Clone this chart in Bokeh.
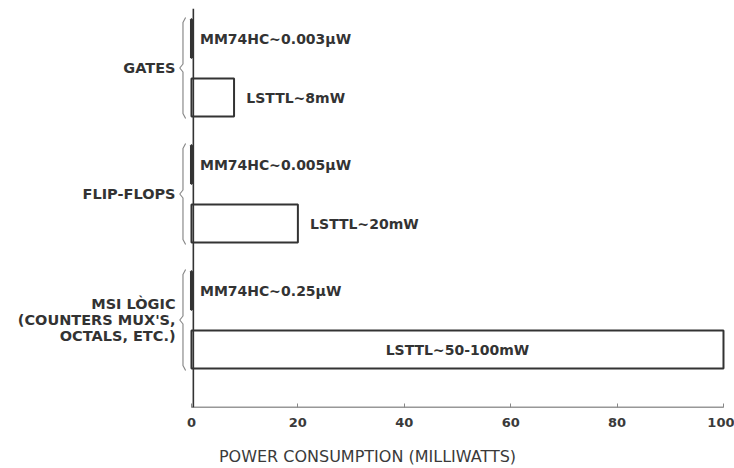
from bokeh.plotting import figure
from bokeh.models import Range1d, FixedTicker
from bokeh.core.properties import value
from bokeh.embed import file_html
from bokeh.resources import INLINE

# ---- data ----
groups = ["GATES", "FLIP-FLOPS", "MSI LÒGIC\n(COUNTERS MUX'S,\nOCTALS, ETC.)"]
series = ["MM74HC", "LSTTL"]
mm74hc_mw = [0.003e-3, 0.005e-3, 0.25e-3]      # milliwatts
lsttl_mw = [8, 20, 100]
mm74hc_labels = ["MM74HC∼0.003µW", "MM74HC∼0.005µW", "MM74HC∼0.25µW"]
lsttl_labels = ["LSTTL∼8mW", "LSTTL∼20mW", "LSTTL∼50-100mW"]
x_ticks = [0, 20, 40, 60, 80, 100]
x_title = "POWER CONSUMPTION (MILLIWATTS)"

# ---- layout (frame units: y in px from top of frame) ----
first, group_gap, sub_gap, bar_h = 30, 126, 59, 38
FONT = "DejaVu Sans"
DARK = "#333333"

W, H = 734, 468
p = figure(width=W, height=H, output_backend="svg", toolbar_location=None,
           x_range=Range1d(-35.9, 102.07), y_range=Range1d(399, 0),
           y_axis_location=None, min_border_left=0, min_border_right=0,
           min_border_top=8, min_border_bottom=61)
p.grid.visible = False
p.outline_line_color = None
p.background_fill_color = "white"

pos_mm, pos_ls = [], []
for i in range(len(groups)):
    pos_mm.append(first + i * group_gap)
    pos_ls.append(first + i * group_gap + sub_gap)

# bars
p.hbar(y=pos_ls, left=0, right=lsttl_mw, height=bar_h, fill_color="white",
       line_color=DARK, line_width=2)
p.hbar(y=pos_mm, left=0, right=mm74hc_mw, height=bar_h, fill_color=DARK,
       line_color=DARK, line_width=3)

# axes lines
p.segment(x0=[0.35, 0], y0=[0, 399], x1=[0.35, 100], y1=[399, 399],
          line_color=DARK, line_width=1.6)

# value labels
p.text(x=[1.6] * 3, y=pos_mm, text=mm74hc_labels, text_font=value(FONT),
       text_font_style="bold", text_font_size="14px", text_color=DARK,
       text_baseline="middle", text_align="left")
lx, la = [], []
for v in lsttl_mw:
    if v > 60:
        lx.append(v / 2); la.append("center")
    else:
        lx.append(v + 2.3); la.append("left")
p.text(x=lx, y=pos_ls, text=lsttl_labels, text_font=value(FONT),
       text_font_style="bold", text_font_size="14px", text_color=DARK,
       text_baseline="middle", text_align=la)

# brackets and group labels
bx = -1.6
xs, ys, gy = [], [], []
for a, b in zip(pos_mm, pos_ls):
    top, bot = a - bar_h / 2 - 2, b + bar_h / 2 + 2
    mid = (top + bot) / 2
    xs.append([bx + 0.5, bx, bx, bx - 0.6, bx, bx, bx + 0.5])
    ys.append([top, top + 5, mid - 4, mid, mid + 4, bot - 5, bot])
    gy.append(mid)
p.multi_line(xs=xs, ys=ys, line_color="#8a8a8a", line_width=1.2)
p.text(x=[-3.0] * 3, y=gy, text=groups, text_font=value(FONT),
       text_font_style="bold", text_font_size="14.5px", text_color=DARK,
       text_baseline="middle", text_align="right", text_line_height=1.03)

# x axis
ax = p.xaxis[0]
ax.ticker = FixedTicker(ticks=x_ticks)
ax.axis_line_color = None
ax.major_tick_in = 4
ax.major_tick_out = 0
ax.major_tick_line_color = "#888888"
ax.minor_tick_line_color = None
ax.major_label_standoff = 10
ax.major_label_text_font = FONT
ax.major_label_text_font_style = "bold"
ax.major_label_text_font_size = "13px"
ax.major_label_text_color = "#3a3a3a"
ax.axis_label = x_title
ax.axis_label_standoff = 17
ax.axis_label_text_font = FONT
ax.axis_label_text_font_style = "normal"
ax.axis_label_text_font_size = "16px"
ax.axis_label_text_color = "#3a3a3a"

open("out.html", "w").write(file_html(p, INLINE))
